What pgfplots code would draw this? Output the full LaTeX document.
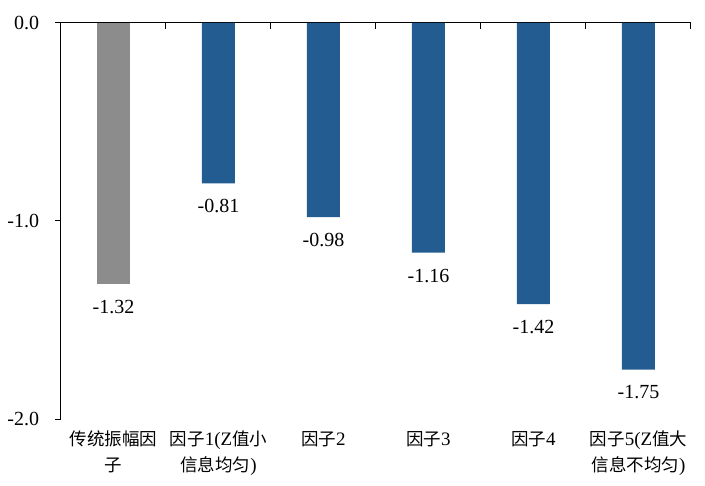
\documentclass[border=0pt]{standalone}
\usepackage{pgfplots}
\pgfplotsset{compat=1.18}
\usepackage{fontspec}
\setmainfont{Liberation Serif}
\newfontfamily\cjk{Noto Sans CJK SC}[Scale=0.92]
\definecolor{barblue}{RGB}{35,92,145}
\definecolor{bargray}{RGB}{140,140,140}
\begin{document}
\fontsize{20bp}{24bp}\selectfont
\begin{tikzpicture}
\useasboundingbox (-61bp,-67bp) rectangle (644bp,419bp);
\begin{axis}[
  scale only axis, width=630bp, height=396bp,
  xmin=-0.5, xmax=5.5, ymin=-2, ymax=0,
  axis x line=top, axis y line=left,
  axis line style={-, line width=1bp},
  ybar, bar width=33bp, bar shift=0pt,
  tick align=outside, major tick length=6bp, minor tick length=6bp,
  tick style={black, line width=1bp},
  xtick={0,...,5},
  every major x tick/.append style={draw=none},
  minor xtick={0.5,1.5,2.5,3.5,4.5,5.5},
  every minor x tick/.append style={yshift=-6bp},
  xticklabels={{{\cjk 传统振幅因}\\{\cjk 子}},
               {{\cjk 因子}1(Z{\cjk 值小}\\{\cjk 信息均匀})},
               {{\cjk 因子}2},
               {{\cjk 因子}3},
               {{\cjk 因子}4},
               {{\cjk 因子}5(Z{\cjk 值大}\\{\cjk 信息不均匀})}},
  xticklabel style={align=center, anchor=north, font=\fontsize{19bp}{26bp}\selectfont,
    inner sep=0pt, yshift=-414bp},
  ytick={0,-1,-2},
  yticklabel style={/pgf/number format/fixed, /pgf/number format/fixed zerofill,
    /pgf/number format/precision=1, font=\fontsize{20bp}{24bp}\selectfont, xshift=-9bp},
  /pgf/number format/assume math mode=true,
  nodes near coords={\pgfmathprintnumber[fixed,fixed zerofill,precision=2,assume math mode=true]{\pgfplotspointmeta}},
  every node near coord/.append style={anchor=north, yshift=-16bp, inner sep=0pt, black,
    font=\fontsize{20bp}{24bp}\selectfont},
]
\addplot[fill=bargray, draw=none] coordinates {(0,-1.32)};
\addplot[fill=barblue, draw=none] coordinates {(1,-0.81) (2,-0.98) (3,-1.16) (4,-1.42) (5,-1.75)};
\end{axis}
\end{tikzpicture}
\end{document}
